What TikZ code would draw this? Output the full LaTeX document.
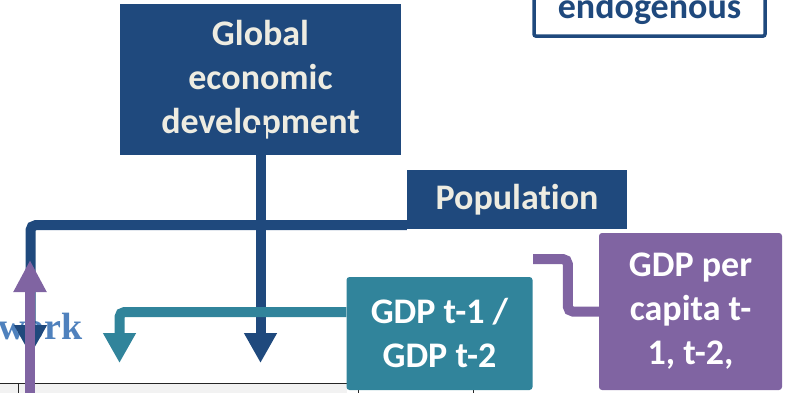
\documentclass[tikz,border=0pt]{standalone}
\usepackage{fontspec}
\setmainfont{Carlito}[Ligatures={NoCommon}]
\newfontfamily\serifbf{Liberation Serif}
\usetikzlibrary{arrows.meta}
\definecolor{dkblue}{RGB}{31,73,125}
\definecolor{teal2}{RGB}{49,132,155}
\definecolor{purp}{RGB}{128,100,162}
\definecolor{cream}{RGB}{238,236,225}
\definecolor{ltblue}{RGB}{79,129,189}
\definecolor{tblgray}{RGB}{242,242,242}
\begin{document}
\begin{tikzpicture}[x=1pt,y=-1pt,
  boxtext/.style={font=\fontsize{36}{44}\selectfont\bfseries, align=center, inner sep=0pt},
  conn/.style={line width=10pt, rounded corners=5pt, -{Triangle[width=31pt,length=30pt]}},
  plainconn/.style={line width=10pt, rounded corners=5pt},
  tblline/.style={line width=0.9pt, black!85}]
\useasboundingbox (0,0) rectangle (785,393);
\clip (0,0) rectangle (785,393);

% table fragment at bottom
\fill[tblgray] (0,383) rectangle (347,400);
\draw[tblline] (0,383) -- (347,383);
\draw[tblline] (18,383) -- (18,400);
\draw[tblline] (358,388) -- (358,400);
\draw[tblline] (473,388) -- (473,400);

% partial heading text
\node[font=\serifbf\bfseries\fontsize{38}{44}\selectfont, text=ltblue, anchor=base east, inner sep=0pt] (wk) at (83,339) {work};

% boxes
\node[boxtext, fill=dkblue, text=cream, minimum width=281pt, minimum height=151pt] (glob) at (260.5,79.5) {Global\\economic\\development};
\node[boxtext, fill=dkblue, text=cream, minimum width=220pt, minimum height=59pt] (pop) at (517,199.5) {Population};
\node[boxtext, fill=teal2, text=white, rounded corners=3pt, minimum width=186pt, minimum height=113pt] (gdp) at (439.5,333.5) {GDP t-1 /\\GDP t-2};
\node[boxtext, fill=purp, text=white, rounded corners=3pt, minimum width=183pt, minimum height=157pt] (pc) at (690.5,311.5) {GDP per\\capita t-\\1, t-2,};
\node[font=\fontsize{36}{44}\selectfont\bfseries, text=dkblue, draw=dkblue, line width=3.5pt, rounded corners=2pt,
      inner ysep=11pt, minimum width=231pt, anchor=base] (endo) at (649.5,19) {endogenous};

% coordinates
\coordinate (lefttip) at (30.5,355);
\coordinate (tealtip) at (119.5,363);
\coordinate (midtip) at (260.5,363);
\coordinate (pend) at (533,259);
\coordinate (pbot) at (30,400);
\coordinate (ptip) at (30,260);

% connectors
\draw[conn, draw=dkblue] ([yshift=4pt]pop.south west) -| (lefttip);
\draw[conn, draw=dkblue] ([yshift=30pt]glob.south) -- (midtip);
\draw[conn, draw=teal2] ([yshift=21.5pt]gdp.west) -| (tealtip);
\draw[plainconn, draw=purp] (pc.west) -- ++(-31,0) |- (pend);
\draw[line width=10pt, draw=purp, -{Triangle[width=31pt,length=32pt]}] (pbot) -- (ptip);
\end{tikzpicture}
\end{document}
